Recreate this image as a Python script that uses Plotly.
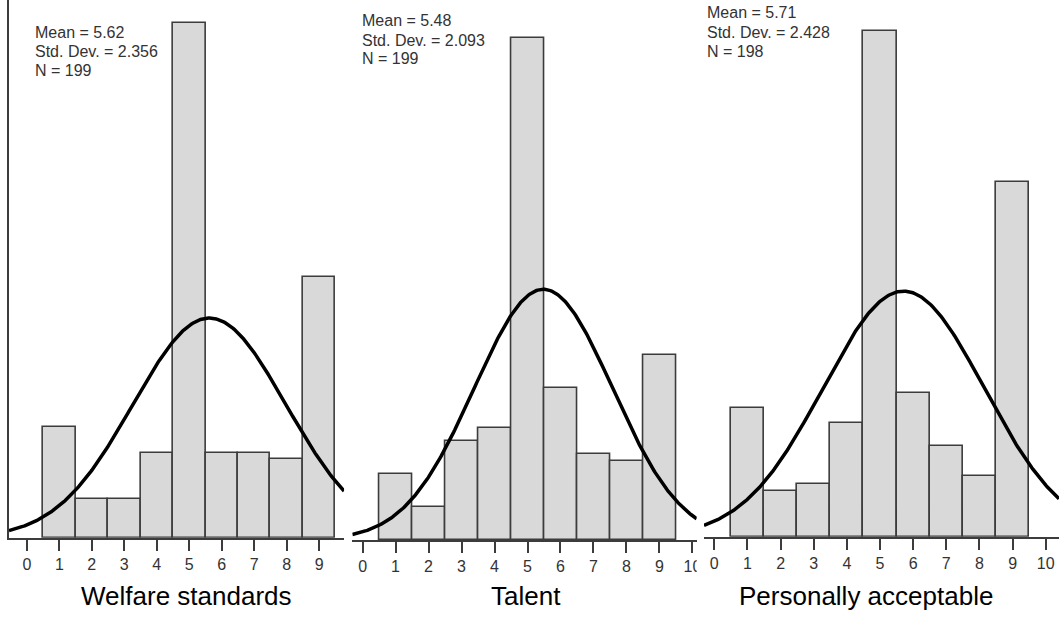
import numpy as np
import plotly.graph_objects as go

# ---- data ----
bins = [1, 2, 3, 4, 5, 6, 7, 8, 9]
welfare_counts = [17, 6, 6, 13, 79, 13, 13, 12, 40]
talent_counts = [10, 5, 15, 17, 76, 23, 13, 12, 28]
personal_counts = [17, 6, 7, 15, 67, 19, 12, 8, 47]

titles = ["Welfare standards", "Talent", "Personally acceptable"]
means = [5.62, 5.48, 5.71]
sds = [2.356, 2.093, 2.428]
ns = [199, 199, 198]
tick_vals = [0, 1, 2, 3, 4, 5, 6, 7, 8, 9, 10]
tick_text = ["0", "1", "2", "3", "4", "5", "6", "7", "8", "9", "10"]

W, H = 1064, 619

# ---- layout geometry (pixels) ----
panels = [
    dict(x0=9, x1=345.7, xr=[-0.5516, 9.768], base=537.7, ymax=82.5,
         yline=True, stat_x=33, stat_y=[32, 52, 70.5], title_x=187.5),
    dict(x0=354, x1=700, xr=[-0.311, 10.13], base=540, ymax=81.7,
         yline=False, stat_x=361.7, stat_y=[20.4, 40.4, 58.7], title_x=528),
    dict(x0=707.3, x1=1064, xr=[-0.312, 10.40], base=536.7, ymax=71.1,
         yline=False, stat_x=708.3, stat_y=[12.9, 32.9, 51.2], title_x=870),
]
counts_all = [welfare_counts, talent_counts, personal_counts]

AX = "#3c3c3c"
FONT = "Liberation Sans, Arial, sans-serif"

fig = go.Figure()
annotations = []
shapes = []

for i, p in enumerate(panels):
    k = "" if i == 0 else str(i + 1)
    xa, ya = "x" + k, "y" + k
    fig.add_trace(go.Bar(
        x=bins, y=counts_all[i], width=1.0,
        marker=dict(color="#d9d9d9", line=dict(color=AX, width=1.6)),
        xaxis=xa, yaxis=ya, showlegend=False, hoverinfo="skip"))
    xs = np.linspace(p["xr"][0], p["xr"][1], 300)
    ys = ns[i] * 1.0 / (sds[i] * np.sqrt(2 * np.pi)) * np.exp(-0.5 * ((xs - means[i]) / sds[i]) ** 2)
    fig.add_trace(go.Scatter(
        x=xs, y=ys, mode="lines", line=dict(color="black", width=3.5),
        xaxis=xa, yaxis=ya, showlegend=False, hoverinfo="skip", cliponaxis=True))

    fig.layout["xaxis" + k] = dict(
        domain=[p["x0"] / W, p["x1"] / W], range=p["xr"], anchor=ya,
        showline=True, linecolor=AX, linewidth=1.6, mirror=False,
        ticks="outside", ticklen=11, tickwidth=2, tickcolor=AX,
        tickvals=tick_vals, ticktext=tick_text, showgrid=False, zeroline=False,
        tickfont=dict(family=FONT, size=16, color="#333333"), fixedrange=True)
    fig.layout["yaxis" + k] = dict(
        domain=[1 - p["base"] / H, 1.0], range=[0, p["ymax"]], anchor=xa,
        showline=p["yline"], linecolor=AX, linewidth=1.6,
        showticklabels=False, ticks="", showgrid=False, zeroline=False, fixedrange=True)

    stats = ["Mean = %.2f" % means[i], "Std. Dev. = %.3f" % sds[i], "N = %d" % ns[i]]
    for s, yy in zip(stats, p["stat_y"]):
        annotations.append(dict(
            text=s, xref="paper", yref="paper", x=p["stat_x"] / W, y=1 - yy / H,
            xanchor="left", yanchor="middle", showarrow=False,
            font=dict(family=FONT, size=16, color="#333333")))
    annotations.append(dict(
        text=titles[i], xref="paper", yref="paper", x=p["title_x"] / W, y=1 - 596 / H,
        xanchor="center", yanchor="middle", showarrow=False,
        font=dict(family=FONT, size=26, color="black")))

# clip the right edge of the second panel's last tick label
shapes.append(dict(type="rect", xref="paper", yref="paper",
                   x0=700 / W, x1=707 / W, y0=1 - 582 / H, y1=1 - 546 / H,
                   fillcolor="white", line=dict(width=0), layer="above"))

fig.update_layout(
    width=W, height=H, margin=dict(l=0, r=0, t=0, b=0),
    paper_bgcolor="white", plot_bgcolor="white",
    annotations=annotations, shapes=shapes, bargap=0,
)
fig.write_html("out.html")
